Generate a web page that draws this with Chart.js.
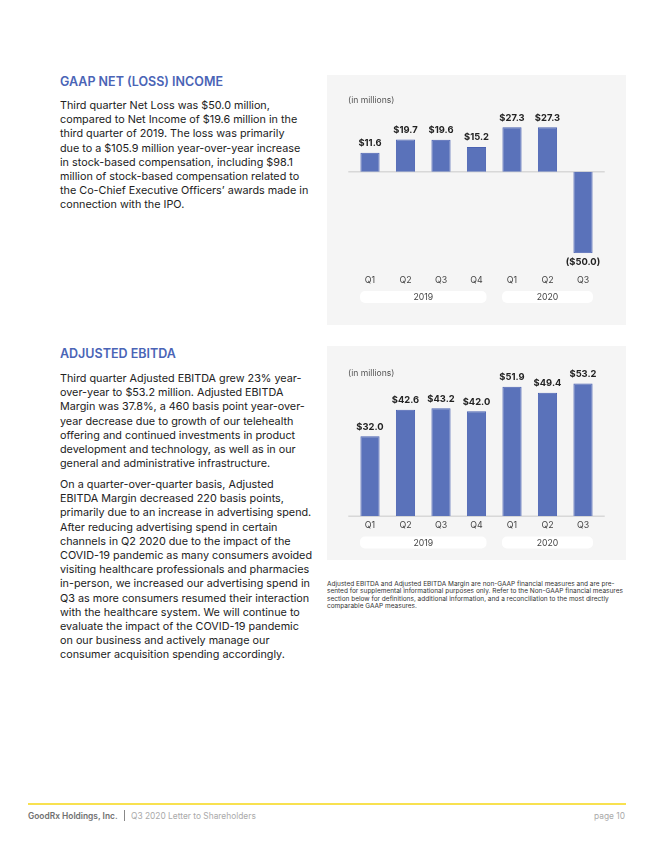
<!DOCTYPE html>
<html><head><meta charset="utf-8">
<script src="https://cdn.jsdelivr.net/npm/chart.js@4"></script>
<style>
body{margin:0;width:654px;height:846px;background:#fff;position:relative;font-family:Inter,sans-serif;overflow:hidden}
.abs{position:absolute}
.h{color:#4a64b6;font-weight:600;font-size:12.5px;line-height:16px;white-space:nowrap}
.p{font-size:10.8px;line-height:14.2px;color:#222;white-space:nowrap}
.panel{background:#f5f5f5}
.note{font-size:6.5px;line-height:7.4px;color:#333;white-space:nowrap}
.unit{font-size:8.6px;color:#555;white-space:nowrap}
.foot{font-family:Inter,sans-serif;font-size:8.4px;white-space:nowrap;line-height:10px}
</style></head>
<body>
<div class="abs h" style="left:60px;top:74px">GAAP NET (LOSS) INCOME</div>
<div class="abs p" style="left:60px;top:99px">Third quarter Net Loss was $50.0 million,<br>compared to Net Income of $19.6 million in the<br>third quarter of 2019. The loss was primarily<br>due to a $105.9 million year-over-year increase<br>in stock-based compensation, including $98.1<br>million of stock-based compensation related to<br>the Co-Chief Executive Officers’ awards made in<br>connection with the IPO.</div>

<div class="abs h" style="left:60px;top:346px">ADJUSTED EBITDA</div>
<div class="abs p" style="left:60px;top:372px">Third quarter Adjusted EBITDA grew 23% year-<br>over-year to $53.2 million. Adjusted EBITDA<br>Margin was 37.8%, a 460 basis point year-over-<br>year decrease due to growth of our telehealth<br>offering and continued investments in product<br>development and technology, as well as in our<br>general and administrative infrastructure.</div>
<div class="abs p" style="left:60px;top:478px">On a quarter-over-quarter basis, Adjusted<br>EBITDA Margin decreased 220 basis points,<br>primarily due to an increase in advertising spend.<br>After reducing advertising spend in certain<br>channels in Q2 2020 due to the impact of the<br>COVID-19 pandemic as many consumers avoided<br>visiting healthcare professionals and pharmacies<br>in-person, we increased our advertising spend in<br>Q3 as more consumers resumed their interaction<br>with the healthcare system. We will continue to<br>evaluate the impact of the COVID-19 pandemic<br>on our business and actively manage our<br>consumer acquisition spending accordingly.</div>

<div class="abs panel" style="left:327px;top:75px;width:299px;height:250px">
  <canvas id="c1" width="299" height="250" style="width:299px;height:250px"></canvas>
  <div class="abs unit" style="left:21px;top:20px">(in millions)</div>
</div>
<div class="abs panel" style="left:327px;top:346px;width:299px;height:214px">
  <canvas id="c2" width="299" height="214" style="width:299px;height:214px"></canvas>
  <div class="abs unit" style="left:21px;top:22px">(in millions)</div>
</div>

<div class="abs note" style="left:327px;top:581px">Adjusted EBITDA and Adjusted EBITDA Margin are non-GAAP financial measures and are pre-<br>sented for supplemental informational purposes only. Refer to the Non-GAAP financial measures<br>section below for definitions, additional information, and a reconciliation to the most directly<br>comparable GAAP measures.</div>

<div class="abs" style="left:28px;top:803px;width:598px;height:1.5px;background:#f8e150"></div>
<div class="abs foot" style="left:28px;top:811px;color:#707070;font-weight:600">GoodRx Holdings, Inc.</div>
<div class="abs" style="left:124px;top:810px;width:1px;height:11px;background:#888"></div>
<div class="abs foot" style="left:131px;top:811px;color:#aaa">Q3 2020 Letter to Shareholders</div>
<div class="abs foot" style="right:29px;top:811px;color:#aaa">page 10</div>

<script>
// ---- data ----
const quarters = ['Q1','Q2','Q3','Q4','Q1','Q2','Q3'];
const years = ['2019','2020'];
const yearFirstIndex = [0, 4];
const yearLastIndex = [3, 6];
const netIncome = [11.6, 19.7, 19.6, 15.2, 27.3, 27.3, -50.0];
const adjEbitda = [32.0, 42.6, 43.2, 42.0, 51.9, 49.4, 53.2];

const BAR = '#5a72ba', BAR_BORDER = '#4a62b2';
Chart.defaults.font.family = 'Inter, sans-serif';

function fmt(v){ return v < 0 ? '($' + Math.abs(v).toFixed(1) + ')' : '$' + v.toFixed(1); }

const decor = {
  id: 'decor',
  beforeDatasetsDraw(chart, args, o) {
    const ctx = chart.ctx, y = chart.scales.y.getPixelForValue(0), a = chart.chartArea;
    ctx.save();
    ctx.strokeStyle = '#d8d8d8'; ctx.lineWidth = 1.5;
    ctx.beginPath(); ctx.moveTo(a.left - 4, y); ctx.lineTo(a.right + 4, y); ctx.stroke();
    ctx.restore();
  },
  afterDatasetsDraw(chart, args, o) {
    const ctx = chart.ctx, meta = chart.getDatasetMeta(0), data = chart.data.datasets[0].data;
    ctx.save();
    ctx.font = 'bold 9.4px Inter, sans-serif';
    ctx.fillStyle = '#222'; ctx.textAlign = 'center'; ctx.textBaseline = 'middle';
    meta.data.forEach((el, i) => {
      const v = data[i];
      ctx.fillText(fmt(v), el.x, v < 0 ? el.y + 9 : el.y - 9.5);
    });
    // year pills
    const xs = chart.scales.x;
    years.forEach((yr, k) => {
      const x0 = xs.getPixelForValue(yearFirstIndex[k]) - 10;
      const x1 = xs.getPixelForValue(yearLastIndex[k]) + 10;
      const yc = o.pillY, h = 12, r = 5;
      ctx.fillStyle = '#fff';
      ctx.beginPath(); ctx.roundRect(x0, yc - h/2, x1 - x0, h, r); ctx.fill();
      ctx.fillStyle = '#444'; ctx.font = '8.7px Inter, sans-serif';
      ctx.fillText(yr, (x0 + x1) / 2, yc + 0.5);
    });
    ctx.restore();
  }
};

function makeChart(id, values, ymin, ymax, pad, tickPad, pillY) {
  return new Chart(document.getElementById(id), {
    type: 'bar',
    data: { labels: quarters, datasets: [{ data: values, backgroundColor: BAR, borderColor: BAR_BORDER, borderWidth: 1, categoryPercentage: 1, barPercentage: 0.54 }] },
    options: {
      responsive: false, animation: false, devicePixelRatio: 1,
      layout: { padding: pad },
      plugins: { legend: { display: false }, tooltip: { enabled: false }, decor: { pillY } },
      scales: {
        y: { display: false, min: ymin, max: ymax },
        x: { grid: { display: false, drawTicks: false, tickLength: 0 }, border: { display: false },
             ticks: { padding: tickPad, color: '#444', font: { size: 8.8 } } }
      }
    },
    plugins: [decor]
  });
}

makeChart('c1', netIncome, -50, 30, { left: 25.25, right: 25.25, top: 47.8, bottom: 18.2 }, 21.5, 222);
makeChart('c2', adjEbitda, 0, 60, { left: 25.25, right: 25.25, top: 20.4, bottom: 26.2 }, 3.5, 196.5);
</script>
</body></html>
